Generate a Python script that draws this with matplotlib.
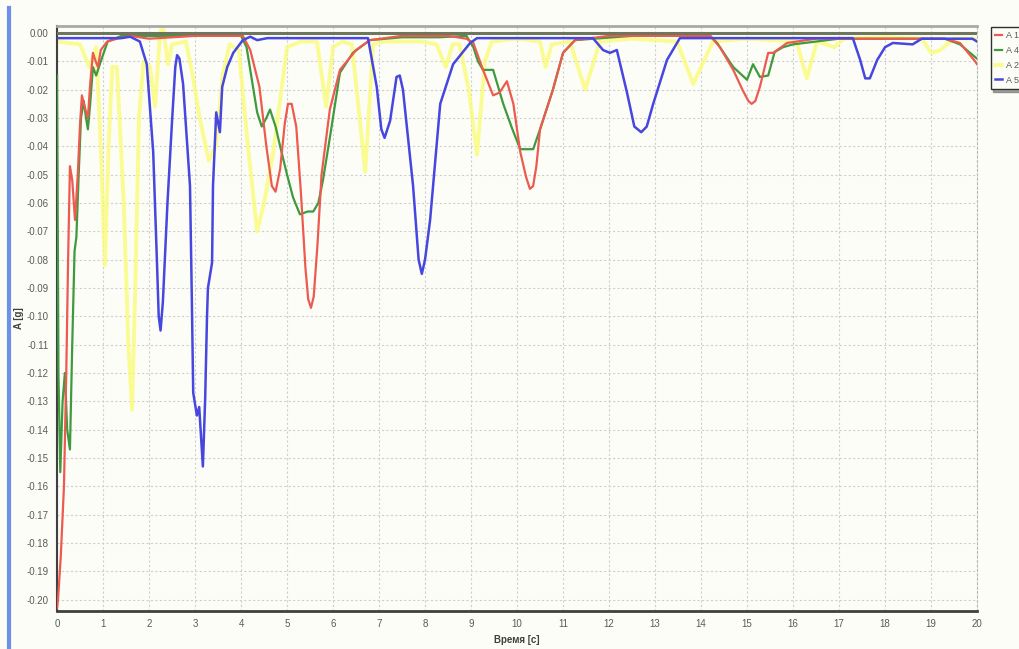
"""
Acceleration traces A 1 / A 4 / A 26 / A 52 over 20 s
"""
import matplotlib
matplotlib.use("Agg")
import matplotlib.pyplot as plt
from matplotlib.lines import Line2D

# --- series data ---
a1_t = [0.0, 0.02, 0.08, 0.15, 0.2, 0.24, 0.28, 0.33, 0.39, 0.45, 0.5, 0.54, 0.6, 0.67,
        0.72, 0.78, 0.84, 0.89, 0.95, 1.09, 1.3, 1.6, 2.0, 3.0, 3.8, 4.04, 4.2, 4.4, 4.55,
        4.67, 4.75, 4.85, 4.95, 5.02, 5.1, 5.2, 5.3, 5.4, 5.46, 5.52, 5.58, 5.66, 5.75,
        5.93, 6.15, 6.5, 6.8, 7.5, 8.5, 8.9, 9.05, 9.26, 9.48, 9.62, 9.78, 9.92, 10.07,
        10.2, 10.28, 10.35, 10.42, 10.5, 10.78, 11.0, 11.26, 12.0, 13.0, 14.2, 14.41,
        14.7, 14.9, 15.03, 15.1, 15.18, 15.28, 15.46, 15.57, 15.87, 16.5, 17.5, 18.5,
        19.3, 19.63, 19.96, 20.0]
a1_v = [-0.203, -0.2, -0.185, -0.16, -0.12, -0.08, -0.047, -0.052, -0.066, -0.05, -0.032,
        -0.022, -0.026, -0.03, -0.018, -0.007, -0.01, -0.012, -0.006, -0.003, -0.002,
        -0.001, -0.002, -0.001, -0.001, -0.001, -0.006, -0.019, -0.04, -0.054, -0.056,
        -0.048, -0.032, -0.025, -0.025, -0.033, -0.056, -0.083, -0.094, -0.097, -0.093,
        -0.075, -0.05, -0.027, -0.013, -0.006, -0.0025, -0.001, -0.001, -0.002, -0.0035,
        -0.013, -0.022, -0.021, -0.017, -0.025, -0.042, -0.051, -0.055, -0.054, -0.047,
        -0.034, -0.02, -0.007, -0.0025, -0.001, -0.001, -0.001, -0.005, -0.013, -0.02,
        -0.024, -0.025, -0.024, -0.019, -0.007, -0.007, -0.0035, -0.002, -0.002, -0.002,
        -0.002, -0.0035, -0.01, -0.011]

a4_t = [0.0, 0.03, 0.07, 0.12, 0.17, 0.22, 0.28, 0.33, 0.38, 0.42, 0.47, 0.52, 0.58, 0.63,
        0.67, 0.72, 0.78, 0.85, 0.95, 1.1, 1.4, 2.0, 3.0, 4.0, 4.12, 4.25, 4.35, 4.45,
        4.55, 4.63, 4.75, 4.85, 5.0, 5.13, 5.28, 5.45, 5.57, 5.68, 5.78, 5.93, 6.15, 6.43,
        6.8, 7.5, 8.3, 8.9, 9.05, 9.15, 9.26, 9.48, 9.7, 9.9, 10.07, 10.35, 10.5, 10.78,
        11.0, 11.26, 12.5, 14.2, 14.35, 14.7, 15.0, 15.13, 15.28, 15.46, 15.6, 15.78,
        16.0, 17.0, 18.0, 19.3, 19.63, 19.96, 20.0]
a4_v = [-0.015, -0.12, -0.155, -0.13, -0.12, -0.14, -0.147, -0.11, -0.077, -0.072, -0.05,
        -0.03, -0.024, -0.03, -0.034, -0.025, -0.012, -0.015, -0.01, -0.003, -0.001,
        -0.001, -0.001, -0.001, -0.005, -0.018, -0.028, -0.033, -0.03, -0.027, -0.033,
        -0.04, -0.05, -0.058, -0.064, -0.063, -0.063, -0.06, -0.052, -0.037, -0.014,
        -0.007, -0.0025, -0.0015, -0.0015, -0.001, -0.005, -0.01, -0.013, -0.013, -0.025,
        -0.034, -0.041, -0.041, -0.034, -0.02, -0.007, -0.0025, -0.001, -0.001, -0.0035,
        -0.012, -0.0165, -0.011, -0.0155, -0.015, -0.0067, -0.005, -0.004, -0.002,
        -0.002, -0.002, -0.004, -0.0085, -0.009]

a26_t = [0.0, 0.5, 0.7, 0.85, 0.95, 1.04, 1.12, 1.2, 1.3, 1.45, 1.55, 1.63, 1.7, 1.78,
         1.88, 2.02, 2.13, 2.24, 2.3, 2.41, 2.5, 2.8, 2.95, 3.1, 3.3, 3.45, 3.6, 3.75,
         3.95, 4.15, 4.35, 4.5, 4.7, 5.0, 5.3, 5.65, 5.85, 6.0, 6.2, 6.41, 6.7, 6.87, 7.1,
         7.9, 8.25, 8.45, 8.6, 8.75, 8.95, 9.13, 9.3, 9.45, 10.0, 10.5, 10.62, 10.75,
         11.15, 11.48, 11.8, 12.5, 13.48, 13.83, 14.26, 15.0, 16.08, 16.3, 16.52, 16.9,
         17.1, 18.0, 18.8, 19.0, 19.2, 19.5, 20.0]
a26_v = [-0.003, -0.004, -0.012, -0.005, -0.04, -0.082, -0.04, -0.012, -0.012, -0.06,
         -0.11, -0.133, -0.09, -0.03, -0.01, -0.012, -0.026, 0.0, 0.003, -0.011, -0.004,
         -0.003, -0.015, -0.03, -0.045, -0.04, -0.015, -0.004, -0.006, -0.04, -0.07,
         -0.06, -0.042, -0.005, -0.003, -0.003, -0.026, -0.005, -0.003, -0.004, -0.049,
         -0.004, -0.003, -0.003, -0.004, -0.012, -0.004, -0.004, -0.02, -0.043, -0.01,
         -0.003, -0.002, -0.003, -0.012, -0.004, -0.003, -0.02, -0.003, -0.002, -0.003,
         -0.018, -0.003, -0.002, -0.003, -0.016, -0.003, -0.005, -0.002, -0.0015,
         -0.002, -0.007, -0.006, -0.002, -0.002]

a52_t = [0.0, 1.0, 1.4, 1.59, 1.8, 1.95, 2.09, 2.17, 2.21, 2.25, 2.3, 2.4, 2.5, 2.57,
         2.61, 2.66, 2.74, 2.89, 2.93, 2.96, 3.04, 3.09, 3.17, 3.22, 3.26, 3.28, 3.37,
         3.39, 3.46, 3.54, 3.59, 3.7, 3.83, 4.04, 4.2, 4.35, 4.57, 6.76, 6.95, 7.05, 7.12,
         7.24, 7.38, 7.45, 7.52, 7.74, 7.86, 7.93, 8.0, 8.11, 8.33, 8.61, 8.98, 9.13,
         11.65, 11.87, 12.02, 12.17, 12.39, 12.55, 12.7, 12.82, 12.96, 13.26, 13.54, 17.3,
         17.46, 17.57, 17.67, 17.83, 18.0, 18.17, 18.6, 18.8, 19.9, 20.0]
a52_v = [-0.0018, -0.0018, -0.0018, -0.0013, -0.003, -0.011, -0.042, -0.08, -0.1, -0.105,
         -0.095, -0.06, -0.031, -0.012, -0.0078, -0.009, -0.018, -0.054, -0.094, -0.127,
         -0.135, -0.132, -0.153, -0.129, -0.1, -0.09, -0.081, -0.054, -0.028, -0.035,
         -0.019, -0.012, -0.007, -0.0025, -0.0013, -0.0025, -0.0018, -0.0018, -0.019,
         -0.034, -0.037, -0.031, -0.0155, -0.015, -0.02, -0.054, -0.08, -0.085, -0.08,
         -0.066, -0.025, -0.011, -0.0035, -0.0018, -0.0018, -0.006, -0.007, -0.006,
         -0.021, -0.033, -0.035, -0.033, -0.025, -0.0095, -0.0018, -0.0018, -0.0095,
         -0.016, -0.016, -0.0095, -0.005, -0.0035, -0.004, -0.002, -0.002, -0.003]

x_ticks = list(range(0, 21))
y_ticks = [-i / 100 for i in range(0, 21)]

BG = '#fdfdf7'
plt.rcParams['font.family'] = ['Liberation Sans', 'DejaVu Sans']

fig = plt.figure(figsize=(10.19, 6.49), dpi=100, facecolor=BG)
ax = fig.add_axes([0.056, 0.0586, 0.9028, 0.9014], facecolor=BG)

# yellow first so the others sit on top of it
ax.plot(a26_t, a26_v, color='#fbfb7c', lw=2.8, alpha=0.8, zorder=2, label='A 26',
        solid_joinstyle='round')
ax.plot(a4_t, a4_v, color='#3e9a3e', lw=1.6, zorder=3, label='A 4', solid_joinstyle='round')
ax.plot(a1_t, a1_v, color='#ec5a50', lw=1.6, zorder=4, label='A 1', solid_joinstyle='round')
ax.plot(a52_t, a52_v, color='#4646e0', lw=1.8, zorder=5, label='A 52',
        solid_joinstyle='round')
ax.axhline(0, color='#6f765e', lw=2.2, zorder=6)

ax.set_xlim(0, 20)
ax.set_ylim(-0.204, 0.0025)
ax.set_xticks(x_ticks)
ax.set_yticks(y_ticks)
ax.set_yticklabels([f"{v:.2f}" if v != 0 else "0.00" for v in y_ticks])
ax.tick_params(length=0, labelsize=7, labelcolor='#5a5a5a', pad=6)
ax.grid(True, color='#cfcfcf', lw=0.8, linestyle=(0, (2, 2)))

for side in ('left', 'bottom'):
    ax.spines[side].set_color('#404040')
ax.spines['bottom'].set_linewidth(2.0)
ax.spines['left'].set_linewidth(1.5)
ax.spines['top'].set_color('#a8a8a8')
ax.spines['top'].set_linewidth(2.0)
ax.spines['right'].set_color('#b8b8b8')
ax.spines['right'].set_linestyle((0, (2, 2)))
ax.spines['right'].set_linewidth(0.8)

ax.set_xlabel('Время [с]', fontsize=7, fontweight='bold', color='#404040', labelpad=4)
ax.set_ylabel('A [g]', fontsize=7, fontweight='bold', color='#404040', labelpad=2)

# legend (runs off the right edge like in the screenshot)
h = {l.get_label(): l for l in ax.get_lines() if not l.get_label().startswith('_')}
order = ['A 1', 'A 4', 'A 26', 'A 52']
leg = ax.legend([h[k] for k in order], order, loc='upper left',
                bbox_to_anchor=(986 / 1019, 1 - 22 / 649), bbox_transform=fig.transFigure,
                fontsize=6.5, handlelength=0.8, handletextpad=0.4, labelspacing=0.65,
                borderpad=0.5, frameon=True, fancybox=False, shadow=True,
                edgecolor='#303030', facecolor=BG, framealpha=1)
for t in leg.get_texts():
    t.set_color('#5a5a5a')

# window edge on the far left
fig.add_artist(Line2D([0.0085, 0.0085], [0.0, 0.988], transform=fig.transFigure,
                      color='#6f90e8', lw=3))

fig.savefig('out.png', dpi=100, facecolor=BG)
